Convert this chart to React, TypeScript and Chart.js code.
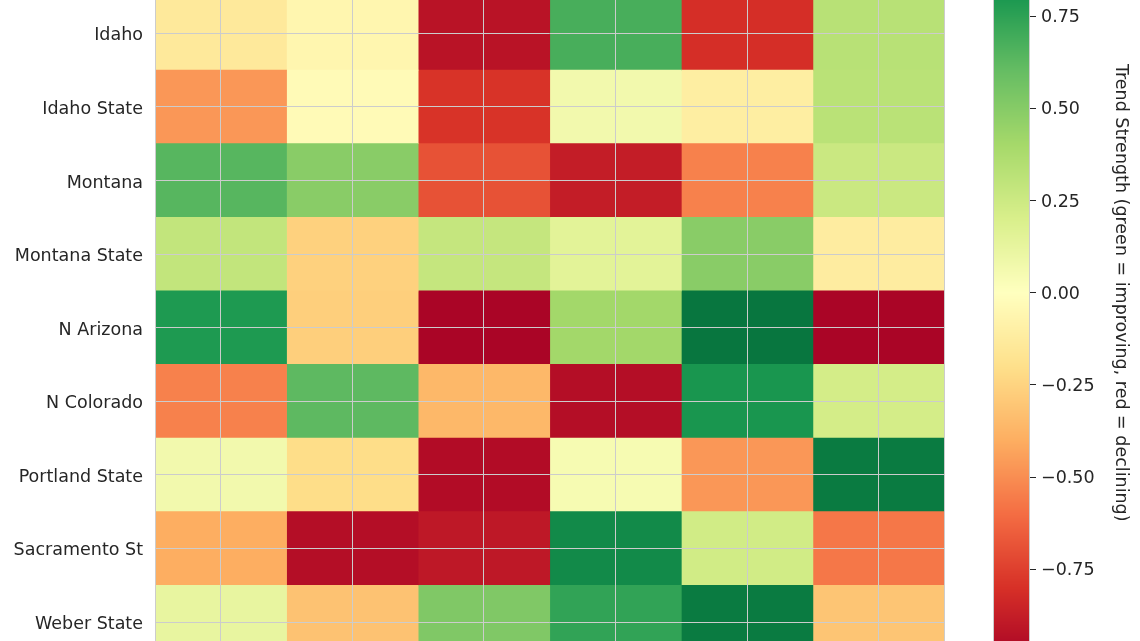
import React, { useEffect, useRef } from 'react';
import { Chart, registerables } from 'chart.js';

Chart.register(...registerables);

// ---- data ----
const teams = [
  'Idaho',
  'Idaho State',
  'Montana',
  'Montana State',
  'N Arizona',
  'N Colorado',
  'Portland State',
  'Sacramento St',
  'Weber State',
];
const columns = ['Col 1', 'Col 2', 'Col 3', 'Col 4', 'Col 5', 'Col 6'];

const idaho = [-0.14, -0.06, -0.92, 0.68, -0.81, 0.33];
const idahoState = [-0.47, -0.03, -0.79, 0.07, -0.11, 0.32];
const montana = [0.64, 0.49, -0.69, -0.88, -0.54, 0.26];
const montanaState = [0.29, -0.26, 0.28, 0.15, 0.49, -0.12];
const nArizona = [0.79, -0.27, -0.98, 0.41, 0.94, -0.98];
const nColorado = [-0.54, 0.62, -0.36, -0.94, 0.81, 0.22];
const portlandState = [0.07, -0.21, -0.95, 0.05, -0.47, 0.92];
const sacramentoSt = [-0.4, -0.94, -0.9, 0.86, 0.23, -0.57];
const weberState = [0.12, -0.32, 0.52, 0.74, 0.92, -0.31];

const trendMatrix = [
  idaho,
  idahoState,
  montana,
  montanaState,
  nArizona,
  nColorado,
  portlandState,
  sacramentoSt,
  weberState,
];

const colorMin = -1;
const colorMax = 1;
const colorbarStep = 0.25;
const colorbarTitle = 'Trend Strength (green = improving, red = declining)';
const cellSpan = 1;

// ---- colormap (RdYlGn) ----
const RDYLGN = [
  '#a50026', '#d73027', '#f46d43', '#fdae61', '#fee08b', '#ffffbf',
  '#d9ef8b', '#a6d96a', '#66bd63', '#1a9850', '#006837',
];
function hexToRgb(h: string) {
  return [parseInt(h.slice(1, 3), 16), parseInt(h.slice(3, 5), 16), parseInt(h.slice(5, 7), 16)];
}
const STOPS = RDYLGN.map(hexToRgb);
function cmap(v: number) {
  let t = (v - colorMin) / (colorMax - colorMin);
  t = Math.max(0, Math.min(1, t));
  const p = t * (STOPS.length - 1);
  const i = Math.min(STOPS.length - 2, Math.floor(p));
  const f = p - i;
  const a = STOPS[i];
  const b = STOPS[i + 1];
  const c = a.map((x, k) => Math.round(x + (b[k] - x) * f));
  return `rgb(${c[0]},${c[1]},${c[2]})`;
}

const FONT = 'DejaVu Sans';
const TEXT = '#262626';
const GRID = '#cccccc';

const spinesPlugin = {
  id: 'spines',
  afterDraw(chart: any) {
    const { ctx, chartArea } = chart;
    ctx.save();
    ctx.strokeStyle = GRID;
    ctx.lineWidth = 1;
    const l = Math.round(chartArea.left) + 0.5;
    const r = Math.round(chartArea.right) - 0.5;
    const t = Math.round(chartArea.top) + 0.5;
    const b = Math.round(chartArea.bottom) - 0.5;
    ctx.strokeRect(l, t, r - l, b - t);
    ctx.restore();
  },
};

const colorbarPlugin = {
  id: 'colorbarFill',
  beforeDraw(chart: any) {
    const { ctx, chartArea } = chart;
    const scale = chart.scales.y;
    ctx.save();
    const top = Math.floor(chartArea.top);
    const bottom = Math.ceil(chartArea.bottom);
    for (let y = top; y < bottom; y++) {
      const v = scale.getValueForPixel(y + 0.5);
      ctx.fillStyle = cmap(v);
      ctx.fillRect(chartArea.left, y, chartArea.right - chartArea.left, 1);
    }
    ctx.restore();
  },
  afterDraw(chart: any) {
    const { ctx, chartArea } = chart;
    ctx.save();
    ctx.strokeStyle = GRID;
    ctx.lineWidth = 1;
    const l = Math.round(chartArea.left) + 0.5;
    const r = Math.round(chartArea.right) - 0.5;
    const t = Math.round(chartArea.top) + 0.5;
    const b = Math.round(chartArea.bottom) - 0.5;
    ctx.strokeRect(l, t, r - l, b - t);
    ctx.restore();
  },
};

function fmtTick(v: number) {
  const s = Math.abs(v).toFixed(2);
  return v < -1e-9 ? '\u2212' + s : s;
}

export default function App() {
  const heatRef = useRef<HTMLCanvasElement>(null);
  const barRef = useRef<HTMLCanvasElement>(null);

  useEffect(() => {
    const heat = new Chart(heatRef.current as HTMLCanvasElement, {
      type: 'bar',
      data: {
        labels: teams,
        datasets: columns.map((col, j) => ({
          label: col,
          data: teams.map(() => cellSpan),
          backgroundColor: trendMatrix.map((row) => cmap(row[j])),
          borderWidth: 0,
          categoryPercentage: 1,
          barPercentage: 1,
        })),
      },
      options: {
        indexAxis: 'y',
        animation: false,
        responsive: false,
        devicePixelRatio: 1,
        layout: { padding: { left: 0, top: 36.5, right: 15.5, bottom: 31.2 } },
        plugins: { legend: { display: false }, tooltip: { enabled: false } },
        scales: {
          x: {
            type: 'linear',
            stacked: true,
            min: 0,
            max: columns.length,
            ticks: { display: false },
            border: { display: false },
            grid: { z: 1, color: GRID, lineWidth: 1, drawTicks: false },
            afterBuildTicks: (s: any) => {
              s.ticks = columns.map((_, j) => ({ value: j + 0.5 }));
            },
          },
          y: {
            type: 'category',
            stacked: true,
            offset: true,
            border: { display: false },
            grid: { z: 1, offset: false, color: GRID, lineWidth: 1, drawTicks: false },
            ticks: {
              autoSkip: false,
              padding: 12,
              labelOffset: 2.5,
              color: TEXT,
              font: { family: FONT, size: 17.5 },
            },
            afterFit: (s: any) => {
              s.width = 155;
            },
          },
        },
      } as any,
      plugins: [spinesPlugin],
    });

    const bar = new Chart(barRef.current as HTMLCanvasElement, {
      type: 'scatter',
      data: { datasets: [] },
      options: {
        animation: false,
        responsive: false,
        devicePixelRatio: 1,
        layout: { padding: { left: 13, top: 23.8, right: 0, bottom: 38.4 } },
        plugins: { legend: { display: false }, tooltip: { enabled: false } },
        scales: {
          x: { type: 'linear', display: false },
          y: {
            type: 'linear',
            position: 'right',
            min: colorMin,
            max: colorMax,
            border: { display: false },
            grid: {
              drawOnChartArea: false,
              drawTicks: true,
              tickLength: 6,
              tickColor: TEXT,
              tickWidth: 1,
            },
            ticks: {
              stepSize: colorbarStep,
              padding: 5,
              labelOffset: 1.5,
              color: TEXT,
              font: { family: FONT, size: 17.5 },
              callback: (v: any) => fmtTick(Number(v)),
            },
            title: {
              display: true,
              text: colorbarTitle,
              color: TEXT,
              font: { family: FONT, size: 17.5, lineHeight: 1.2 },
              padding: { top: 8.5, bottom: 0 },
            },
            afterFit: (s: any) => {
              s.width = 110;
            },
          },
        },
      } as any,
      plugins: [colorbarPlugin],
    });

    return () => {
      heat.destroy();
      bar.destroy();
    };
  }, []);

  return (
    <div
      style={{
        position: 'fixed',
        left: 0,
        top: 0,
        width: 1140,
        height: 641,
        overflow: 'hidden',
        background: '#ffffff',
      }}
    >
      <canvas
        ref={heatRef}
        width={960}
        height={730}
        style={{ position: 'absolute', left: 0, top: -40, width: 960, height: 730, display: 'block' }}
      />
      <canvas
        ref={barRef}
        width={160}
        height={800}
        style={{ position: 'absolute', left: 980, top: -100, width: 160, height: 800, display: 'block' }}
      />
    </div>
  );
}
